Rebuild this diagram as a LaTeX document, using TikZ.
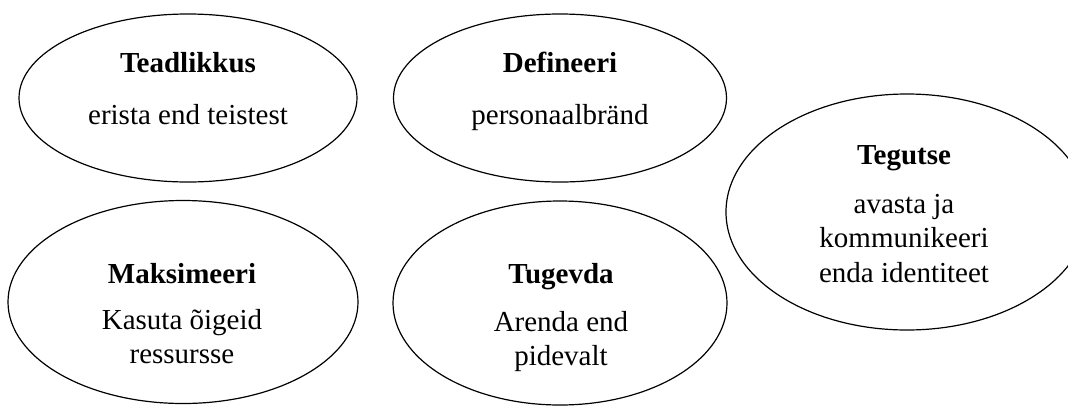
\documentclass[tikz,border=0pt]{standalone}
\usepackage{fontspec}
\setmainfont{Liberation Serif}
\usetikzlibrary{shapes.geometric}
\tikzset{
  oval/.style={draw=black, line width=1.2pt, ellipse, inner sep=0pt},
  headtxt/.style={anchor=base, inner sep=0pt, font=\fontsize{29}{34}\selectfont\bfseries},
  bodytxt/.style={anchor=base, inner sep=0pt, font=\fontsize{29}{34}\selectfont}
}
\begin{document}
\begin{tikzpicture}[x=1pt, y=-1pt]
\useasboundingbox (0,0) rectangle (1068,405);
% ellipses
\node[oval, minimum width=338pt, minimum height=168pt] (e1) at (188,98) {};
\node[oval, minimum width=333pt, minimum height=168pt] (e2) at (560,98) {};
\node[oval, minimum width=362pt, minimum height=236pt] (e3) at (907,212) {};
\node[oval, minimum width=350pt, minimum height=203pt] (e4) at (183,302) {};
\node[oval, minimum width=334pt, minimum height=204pt] (e5) at (560,303) {};
% texts
\node[headtxt] (t1) at (188,72) {Teadlikkus};
\node[bodytxt] (b1) at (188,124) {erista end teistest};
\node[headtxt] (t2) at (560,72) {Defineeri};
\node[bodytxt] (b2) at (560,124) {personaalbränd};
\node[headtxt] (t3) at (904,164) {Tegutse};
\node[bodytxt] (b3a) at (904,213) {avasta ja};
\node[bodytxt] (b3b) at (904,247) {kommunikeeri};
\node[bodytxt] (b3c) at (904,282) {enda identiteet};
\node[headtxt] (t4) at (182,283) {Maksimeeri};
\node[bodytxt] (b4a) at (182,329) {Kasuta õigeid};
\node[bodytxt] (b4b) at (182,363) {ressursse};
\node[headtxt] (t5) at (561,283) {Tugevda};
\node[bodytxt] (b5a) at (561,331) {Arenda end};
\node[bodytxt] (b5b) at (561,365) {pidevalt};
\end{tikzpicture}
\end{document}
